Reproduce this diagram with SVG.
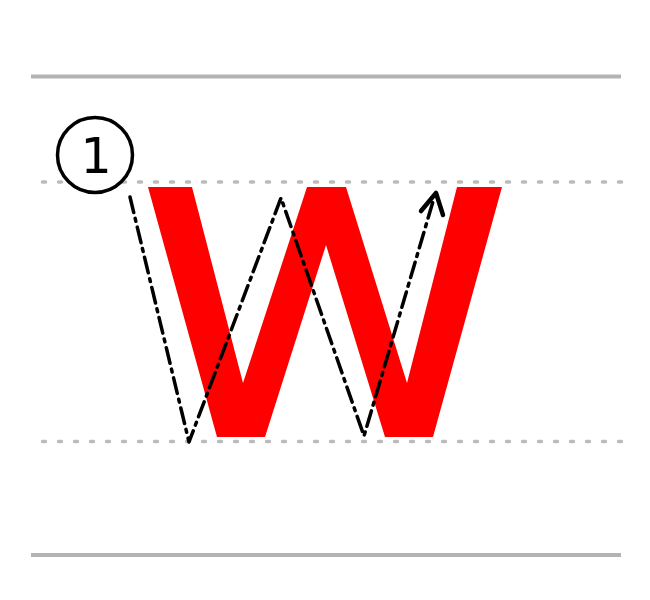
<svg xmlns="http://www.w3.org/2000/svg" width="650" height="600" viewBox="0 0 650 600">
<style>
.rule{stroke:#b3b3b3;stroke-width:4;fill:none}
.dot{stroke:#bbbbbb;stroke-width:3.5;stroke-linecap:round;stroke-dasharray:3 13;fill:none}
.stroke{stroke:#000;stroke-width:3.5;fill:none;stroke-dasharray:16 6 3 6;stroke-linecap:round;stroke-linejoin:round}
.head{stroke:#000;stroke-width:4.5;fill:none;stroke-linecap:round;stroke-linejoin:round}
</style>
<rect width="650" height="600" fill="#fff"/>
<g id="guides">
<line class="rule" x1="31" y1="76.5" x2="621" y2="76.5"/>
<line class="rule" x1="31" y1="555" x2="621" y2="555"/>
<line class="dot" x1="42.5" y1="182" x2="622" y2="182"/>
<line class="dot" x1="42.5" y1="441.5" x2="622" y2="441.5"/>
</g>
<g id="letter">
<polygon fill="#ff0000" points="148,187 192,187 243,383 307,187 346,187 407,383 457,187 502,187 433,437 385,437 326,245 265,437 217,437"/>
</g>
<g id="connectors">
<polyline class="stroke" points="130,197 189,442 281,198 364,436 434,198"/>
<polyline class="head" points="421,211 436,193 443,215"/>
</g>
<g id="badge">
<circle cx="95" cy="155" r="37.5" fill="#fff" stroke="#000" stroke-width="3.5"/>
<text x="96" y="173" font-family="DejaVu Sans, sans-serif" font-size="49" text-anchor="middle">1</text>
</g>
</svg>
